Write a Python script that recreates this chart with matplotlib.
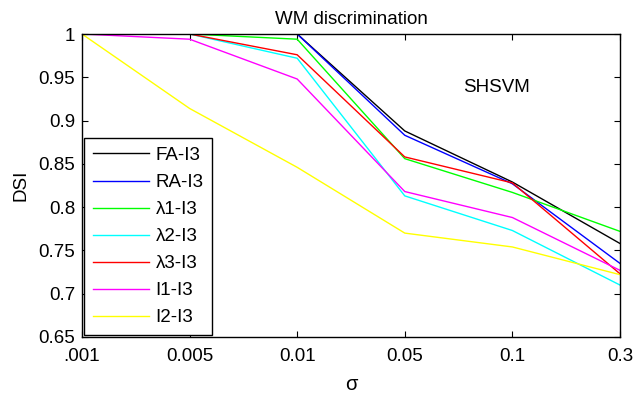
import matplotlib
matplotlib.use("Agg")
import matplotlib.pyplot as plt

plt.rcParams["font.family"] = ["Liberation Sans", "DejaVu Sans"]

sigma_labels = [".001", "0.005", "0.01", "0.05", "0.1", "0.3"]
fa_i3 = [1.0, 1.0, 1.0, 0.888, 0.829, 0.758]
ra_i3 = [1.0, 1.0, 1.0, 0.883, 0.827, 0.735]
l1_i3 = [1.0, 1.0, 0.994, 0.856, 0.817, 0.772]
l2_i3 = [1.0, 1.0, 0.972, 0.813, 0.773, 0.710]
l3_i3 = [1.0, 1.0, 0.976, 0.858, 0.828, 0.723]
i1_i3 = [1.0, 0.994, 0.948, 0.818, 0.788, 0.727]
i2_i3 = [1.0, 0.914, 0.846, 0.770, 0.754, 0.722]

series = [
    ("FA-I3", fa_i3, "k"),
    ("RA-I3", ra_i3, "#0000ff"),
    ("\u03bb1-I3", l1_i3, "#00ff00"),
    ("\u03bb2-I3", l2_i3, "#00ffff"),
    ("\u03bb3-I3", l3_i3, "#ff0000"),
    ("I1-I3", i1_i3, "#ff00ff"),
    ("I2-I3", i2_i3, "#ffff00"),
]

fs = 13.5
fig = plt.figure(figsize=(6.34, 3.94), dpi=100)
ax = fig.add_axes([0.1293, 0.1447, 0.8486, 0.769])

x = list(range(len(sigma_labels)))
for name, vals, col in series:
    ax.plot(x, vals, color=col, lw=1.0, label=name)

ax.set_xlim(0, len(sigma_labels) - 1)
ax.set_ylim(0.65, 1.0)
ax.set_xticks(x)
ax.set_xticklabels(sigma_labels)
ax.set_yticks([0.65, 0.7, 0.75, 0.8, 0.85, 0.9, 0.95, 1.0])
ax.set_yticklabels(["0.65", "0.7", "0.75", "0.8", "0.85", "0.9", "0.95", "1"])
ax.tick_params(direction="in", top=True, right=True, labelsize=fs, length=4)
ax.tick_params(axis="x", pad=8)
ax.tick_params(axis="y", pad=5)
for s in ax.spines.values():
    s.set_linewidth(1.0)

ax.set_title("WM discrimination", fontsize=fs, pad=7)
ax.set_xlabel("\u03c3", fontsize=fs + 1, labelpad=7)
ax.set_ylabel("DSI", fontsize=fs, labelpad=6)
ax.text(3.85, 0.938, "SHSVM", fontsize=fs, ha="center", va="center")

leg = ax.legend(loc="lower left", bbox_to_anchor=(0.004, 0.007), borderaxespad=0,
                fontsize=fs, fancybox=False, framealpha=1, edgecolor="k",
                handlelength=3.0, handletextpad=0.35, labelspacing=0.53,
                borderpad=0.45)
leg.get_frame().set_linewidth(1.0)

fig.savefig("out.png", dpi=100)
